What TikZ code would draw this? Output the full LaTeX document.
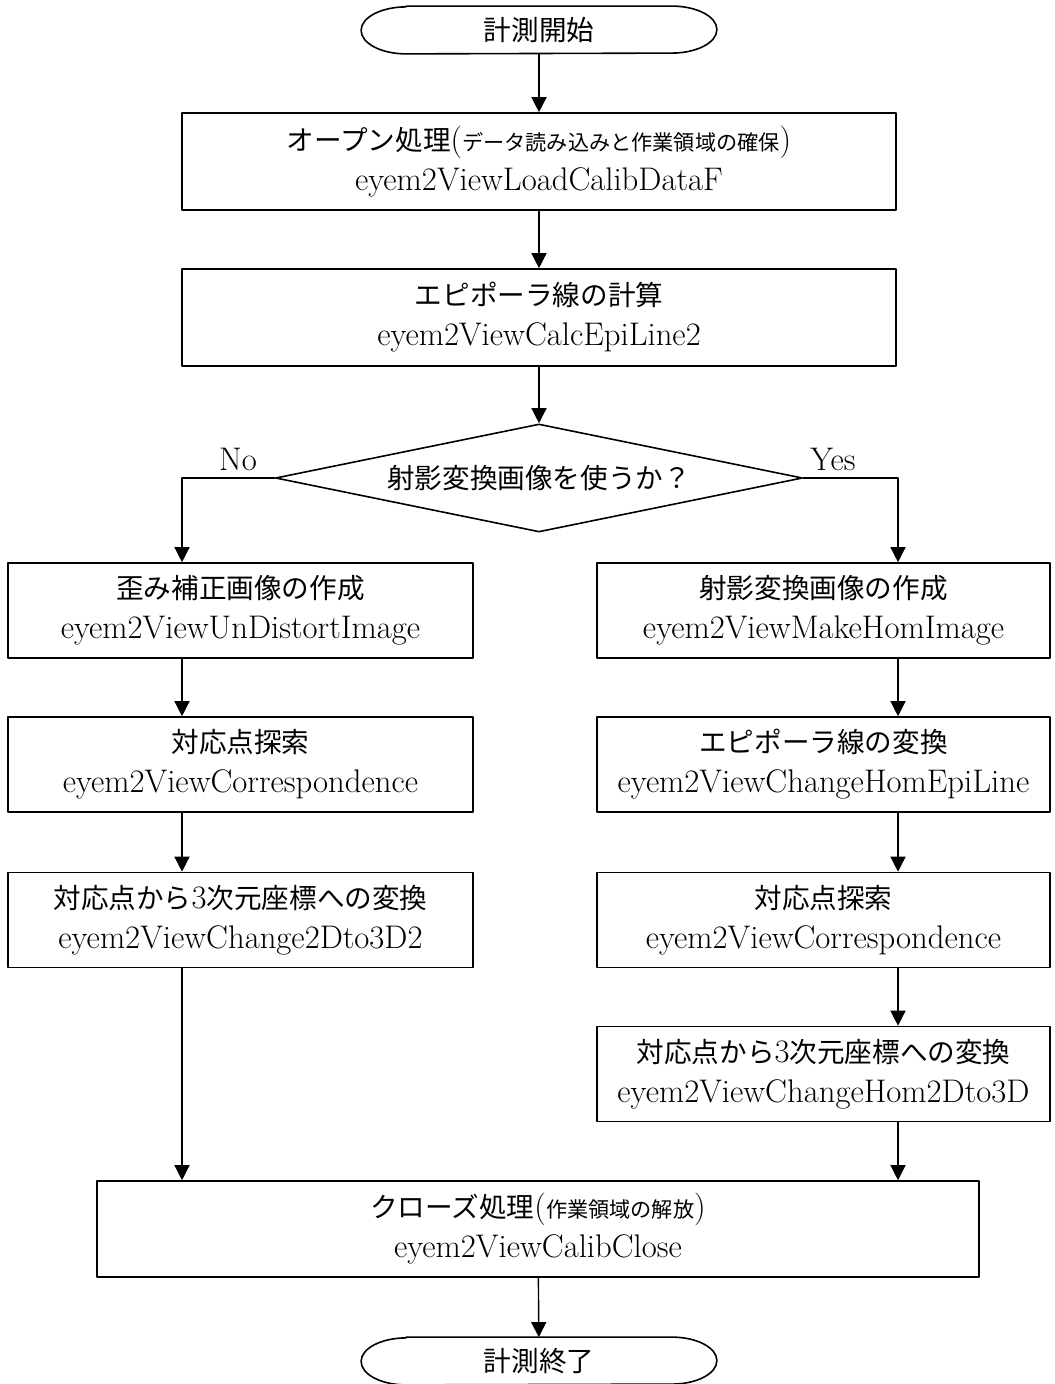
\documentclass[tikz,border=0pt]{standalone}
\usepackage{fontspec}
\setmainfont{Latin Modern Roman}[Scale=1.09]
\newfontfamily\jp[Scale=0.92]{Noto Sans CJK JP}
\usetikzlibrary{shapes.geometric,arrows.meta}
\newcommand\jsmall[1]{{\fontsize{11.5}{12}\selectfont\jp #1}}
\begin{document}
\begin{tikzpicture}[x=0.5pt,y=-0.5pt,line join=round,font=\fontsize{15}{20}\selectfont,
	>={Triangle[length=7.5pt,width=7.5pt]},
	proc/.style={draw,line width=0.8pt,align=center,inner sep=0pt},
	lbox/.style={proc,minimum width=232.5pt,minimum height=47.5pt},
	rbox/.style={proc,minimum width=226.5pt,minimum height=47.5pt},
	term/.style={minimum width=177.5pt,minimum height=23.5pt,inner sep=0pt},
	flow/.style={->,line width=0.7pt}]
	\useasboundingbox (0,0) rectangle (1054,1384);
	% Spalten der Pfeile
	\coordinate (colL) at (182,0);
	\coordinate (colR) at (898,0);
	\node[term] (start) at (539,30) {\jp 計測開始};
	\node[proc,minimum width=357pt,minimum height=48.5pt] (open) at (539,161.5)
		{{\jp オープン処理}(\jsmall{データ読み込みと作業領域の確保})\\eyem2ViewLoadCalibDataF};
	\node[proc,minimum width=357pt,minimum height=48.5pt] (epi) at (539,317.5)
		{{\jp エピポーラ線の計算}\\eyem2ViewCalcEpiLine2};
	\node[draw,diamond,aspect=4.88,minimum width=263.5pt,minimum height=54pt,inner sep=0pt,line width=0.8pt] (dec) at (539,478)
		{\jp 射影変換画像を使うか？};
	\node (no) at (238,459) {No};
	\node (yes) at (833,459) {Yes};
	% linke Seite
	\node[lbox] (A1) at (240.5,610.5) {{\jp 歪み補正画像の作成}\\eyem2ViewUnDistortImage};
	\node[lbox] (A2) at (240.5,764.5) {{\jp 対応点探索}\\eyem2ViewCorrespondence};
	\node[lbox] (A3) at (240.5,920) {{\jp 対応点から}3{\jp 次元座標への変換}\\eyem2ViewChange2Dto3D2};
	% rechte Seite
	\node[rbox] (B1) at (823.5,610.5) {{\jp 射影変換画像の作成}\\eyem2ViewMakeHomImage};
	\node[rbox] (B2) at (823.5,764.5) {{\jp エピポーラ線の変換}\\eyem2ViewChangeHomEpiLine};
	\node[rbox] (B3) at (823.5,920) {{\jp 対応点探索}\\eyem2ViewCorrespondence};
	\node[rbox] (B4) at (823.5,1074) {{\jp 対応点から}3{\jp 次元座標への変換}\\eyem2ViewChangeHom2Dto3D};
	\node[proc,minimum width=441pt,minimum height=48pt] (close) at (538,1229)
		{{\jp クローズ処理}(\jsmall{作業領域の解放})\\eyem2ViewCalibClose};
	\node[term] (end) at (539,1361) {\jp 計測終了};
	% Terminalformen
	\foreach \t in {start,end}
		\draw[line width=0.8pt] ([xshift=22.5pt]\t.north west) -- ([xshift=-22.5pt]\t.north east)
			arc[start angle=90,end angle=-90,x radius=22.5pt,y radius=11.75pt]
			-- ([xshift=22.5pt]\t.south west)
			arc[start angle=270,end angle=90,x radius=22.5pt,y radius=11.75pt] -- cycle;
	\draw[flow] (start) -- (open);
	\draw[flow] (open) -- (epi);
	\draw[flow] (epi) -- (dec);
	\draw[flow] (dec.west) -| (A1.north -| colL);
	\draw[flow] (dec.east) -| (B1.north -| colR);
	\foreach \u/\v in {A1/A2,A2/A3}
		\draw[flow] (\u.south -| colL) -- (\v.north -| colL);
	\foreach \u/\v in {B1/B2,B2/B3,B3/B4}
		\draw[flow] (\u.south -| colR) -- (\v.north -| colR);
	\draw[flow] (A3.south -| colL) -- (close.north -| colL);
	\draw[flow] (B4.south -| colR) -- (close.north -| colR);
	\draw[flow] (close) -- (end);
\end{tikzpicture}
\end{document}
